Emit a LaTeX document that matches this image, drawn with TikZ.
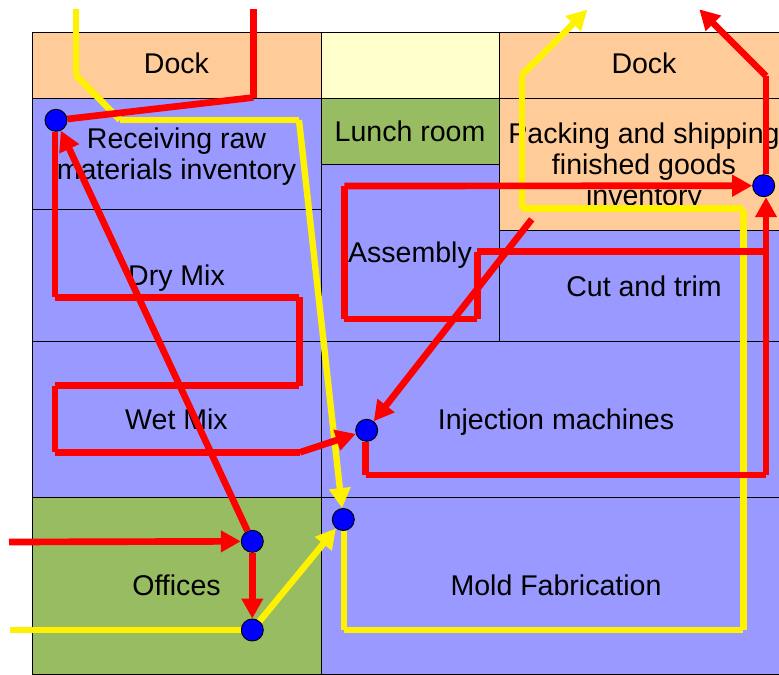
\documentclass[tikz,border=0pt]{standalone}
\usepackage{fontspec}
\setmainfont{Liberation Sans}
\usetikzlibrary{positioning,arrows.meta}
\definecolor{dockc}{HTML}{FFCC99}
\definecolor{blankc}{HTML}{FFFFCC}
\definecolor{prodc}{HTML}{9999FF}
\definecolor{officec}{HTML}{97BC62}

\begin{document}
\begin{tikzpicture}[
  room/.style 2 args={draw,line width=0.7pt,inner sep=0pt,align=center,text depth=0pt,
    minimum width=#1*0.75pt,minimum height=#2*0.75pt,
    font=\fontsize{21.4}{23.25}\selectfont},
  single/.style={text height=15pt},
  hub/.style={circle,draw,fill=blue,line width=0.7pt,inner sep=0pt,minimum size=16.5pt},
  redln/.style={red,line width=5pt},
  yelln/.style={yellow,line width=4.8pt},
  redarr/.style={redln,-{Triangle[length=15pt,width=15.5pt]}},
  yelarr/.style={yelln,-{Triangle[length=15pt,width=15.5pt]}},
  x=0.75pt,y=-0.75pt]
\clip (0,0) rectangle (779,675);
\fill[white] (0,0) rectangle (779,675);
\node[room={289}{66},fill=dockc,text height=13pt] (dockl) at (176.5,65) {Dock};
\node[room={178}{66},fill=blankc] (blank) at (410,65) {};
\node[room={290}{66},fill=dockc,text height=13pt] (dockr) at (644,65) {Dock};
\node[room={289}{111},fill=prodc] (recv) at (176.5,153.5) {Receiving raw\\materials inventory};
\node[room={289}{132},fill=prodc,single] (dry) at (176.5,275) {Dry Mix};
\node[room={289}{156},fill=prodc,single] (wet) at (176.5,419) {Wet Mix};
\node[room={289}{177},fill=officec,single] (office) at (176.5,585.5) {Offices};
\node[room={178}{66},fill=officec,single] (lunch) at (410,131) {Lunch room};
\node[room={178}{177},fill=prodc,single] (assy) at (410,252.5) {Assembly};
\node[room={290}{132},fill=dockc] (pack) at (644,164) {Packing and shipping\\finished goods\\inventory};
\node[room={290}{111},fill=prodc,text height=17pt] (cut) at (644,285.5) {Cut and trim};
\node[room={470}{156},fill=prodc,single] (inj) at (556,419) {Injection machines};
\node[room={470}{177},fill=prodc,single] (mold) at (556,585.5) {Mold Fabrication};
\node[hub] (h1) at (56,120.3) {};
\node[hub] (h2) at (252.3,541.3) {};
\node[hub] (h3) at (252.3,630) {};
\node[hub] (h4) at (343.3,519.5) {};
\node[hub] (h5) at (366.7,430.3) {};
\node[hub] (h6) at (763.7,185.7) {};
\coordinate (y0) at (75.7,9);
\coordinate (y1) at (75.7,75);
\coordinate (y2) at (120,120);
\coordinate (y3) at (299,120);
\coordinate (y4) at (10,630);
\coordinate (y5) at (344,630);
\coordinate (y6) at (743.3,630);
\coordinate (y7) at (743.3,208.5);
\coordinate (y8) at (521.7,208.5);
\coordinate (y9) at (521.7,75);
\coordinate (y10) at (587.3,9.7);
\draw[yelln] (y0)--(y1);
\draw[yelln] (y1)--(y2);
\draw[yelln] (y2)--(y3);
\draw[yelarr] (y3)--(h4);
\draw[yelln] (y4)--(h3);
\draw[yelarr] (h3)--(h4);
\draw[yelln] (y5|-h4.south)--(y5);
\draw[yelln] (y5)--(y6);
\draw[yelln] (y6)--(y7);
\draw[yelln] (y7)--(y8);
\draw[yelln] (y8)--(y9);
\draw[yelarr] (y9)--(y10);
\coordinate (r0) at (253.3,9);
\coordinate (r1) at (253.3,97.5);
\coordinate (r2) at (55,297.3);
\coordinate (r3) at (299.3,297.3);
\coordinate (r4) at (299.3,385.7);
\coordinate (r5) at (55,385.7);
\coordinate (r6) at (55,452.3);
\coordinate (r7) at (300,452.3);
\coordinate (r8) at (9,542);
\coordinate (r9) at (365.7,475);
\coordinate (r10) at (766,475);
\coordinate (r11) at (766,251.7);
\coordinate (r12) at (477.3,251.7);
\coordinate (r13) at (477.3,319);
\coordinate (r14) at (344.3,319);
\coordinate (r15) at (344.3,186);
\coordinate (r16) at (766,76);
\coordinate (r17) at (699.3,9.3);
\coordinate (r18) at (531.7,219.3);
\draw[redln] (r0)--(r1);
\draw[redln] (r1)--(h1);
\draw[redarr] (h2)--(h1);
\draw[redln] (r2|-h1.south)--(r2);
\draw[redln] (r2)--(r3);
\draw[redln] (r3)--(r4);
\draw[redln] (r4)--(r5);
\draw[redln] (r5)--(r6);
\draw[redln] (r6)--(r7);
\draw[redarr] (r7)--(h5);
\draw[redarr] (r8)--(h2);
\draw[redarr] (h2)--(h3);
\draw[redln] (r9|-h5.south)--(r9);
\draw[redln] (r9)--(r10);
\draw[redln] (r10)--(r11);
\draw[redarr] (r11)--(r11|-h6.south);
\draw[redln] (r11)--(r12);
\draw[redln] (r12)--(r13);
\draw[redln] (r13)--(r14);
\draw[redln] (r14)--(r15);
\draw[redarr] (r15)--(h6);
\draw[redln] (r16|-h6.north)--(r16);
\draw[redarr] (r16)--(r17);
\draw[redarr] (r18)--(h5);
\end{tikzpicture}
\end{document}
